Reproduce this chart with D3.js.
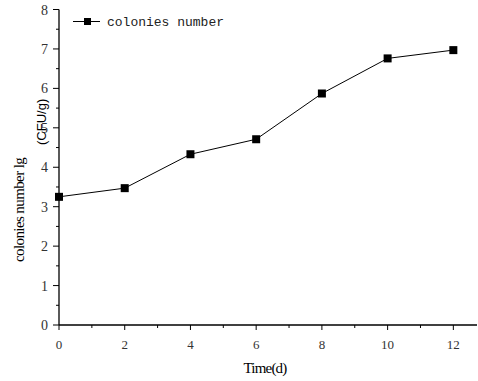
<!DOCTYPE html>
<html><head><meta charset="utf-8">
<script src="https://cdn.jsdelivr.net/npm/d3@7/dist/d3.min.js"></script>
<style>body{margin:0;background:#fff}svg{display:block}</style>
</head><body>
<script>
const times = [0, 2, 4, 6, 8, 10, 12];
const colonies = [3.25, 3.47, 4.33, 4.71, 5.87, 6.76, 6.97];
const xTicks = [0, 2, 4, 6, 8, 10, 12];
const yTicks = [0, 1, 2, 3, 4, 5, 6, 7, 8];
const seriesName = "colonies number";

const W = 478, H = 381;
const svg = d3.select("body").append("svg").attr("width", W).attr("height", H);
const x = d3.scaleLinear().domain([0, 12.72]).range([59, 477]);
const y = d3.scaleLinear().domain([0, 8]).range([325, 9.5]);
const tickFont = "'Liberation Serif', serif";

// x axis
const xa = svg.append("g").attr("transform", `translate(0,${y(0)})`);
xa.append("line").attr("x1", x(0)).attr("x2", 477).attr("stroke", "#000").attr("stroke-width", 1.3);
d3.range(0, 13, 1).forEach(v => {
  xa.append("line").attr("x1", x(v)).attr("x2", x(v)).attr("y1", 0).attr("y2", v % 2 === 0 ? 5 : 3).attr("stroke", "#000");
});
xTicks.forEach(v => {
  xa.append("text").attr("x", x(v)).attr("y", 24).attr("text-anchor", "middle")
    .attr("font-family", tickFont).attr("font-size", 13).attr("fill", "#333").text(v);
});

// y axis
const ya = svg.append("g").attr("transform", `translate(${x(0)},0)`);
ya.append("line").attr("y1", y(0)).attr("y2", y(8)).attr("stroke", "#000").attr("stroke-width", 1.3);
d3.range(0, 8.01, 0.5).forEach(v => {
  ya.append("line").attr("x1", 0).attr("x2", Number.isInteger(v) ? -6 : -3).attr("y1", y(v)).attr("y2", y(v)).attr("stroke", "#000");
});
yTicks.forEach(v => {
  ya.append("text").attr("x", -11).attr("y", y(v) + 5).attr("text-anchor", "end")
    .attr("font-family", tickFont).attr("font-size", 14).attr("fill", "#333").text(v);
});

// line
svg.append("path").datum(times.map((t, i) => [t, colonies[i]]))
  .attr("d", d3.line().x(d => x(d[0])).y(d => y(d[1])))
  .attr("fill", "none").attr("stroke", "#000").attr("stroke-width", 1);
svg.selectAll("rect.pt").data(times).enter().append("rect")
  .attr("x", (d) => x(d) - 4).attr("y", (d, i) => y(colonies[i]) - 4)
  .attr("width", 8).attr("height", 8).attr("fill", "#000");

// legend
svg.append("line").attr("x1", 73).attr("x2", 100).attr("y1", 21.5).attr("y2", 21.5).attr("stroke", "#000");
svg.append("rect").attr("x", 84).attr("y", 18).attr("width", 7).attr("height", 7).attr("fill", "#000");
svg.append("text").attr("x", 107).attr("y", 25.5).attr("font-family", "'Liberation Mono', monospace")
  .attr("font-size", 13).attr("fill", "#222").text(seriesName);

// axis titles
svg.append("text").attr("x", 265).attr("y", 373).attr("text-anchor", "middle")
  .attr("font-family", tickFont).attr("font-size", 15).attr("letter-spacing", -0.8).attr("fill", "#000").text("Time(d)");
svg.append("text").attr("transform", "translate(24,262) rotate(-90)")
  .attr("font-family", tickFont).attr("font-size", 15).attr("letter-spacing", -0.6).attr("fill", "#000").text("colonies number lg");
svg.append("text").attr("transform", "translate(46,145) rotate(-90)")
  .attr("font-family", "'Liberation Sans', sans-serif").attr("font-size", 13).attr("fill", "#000").text("(CFU/g)");
</script>
</body></html>
